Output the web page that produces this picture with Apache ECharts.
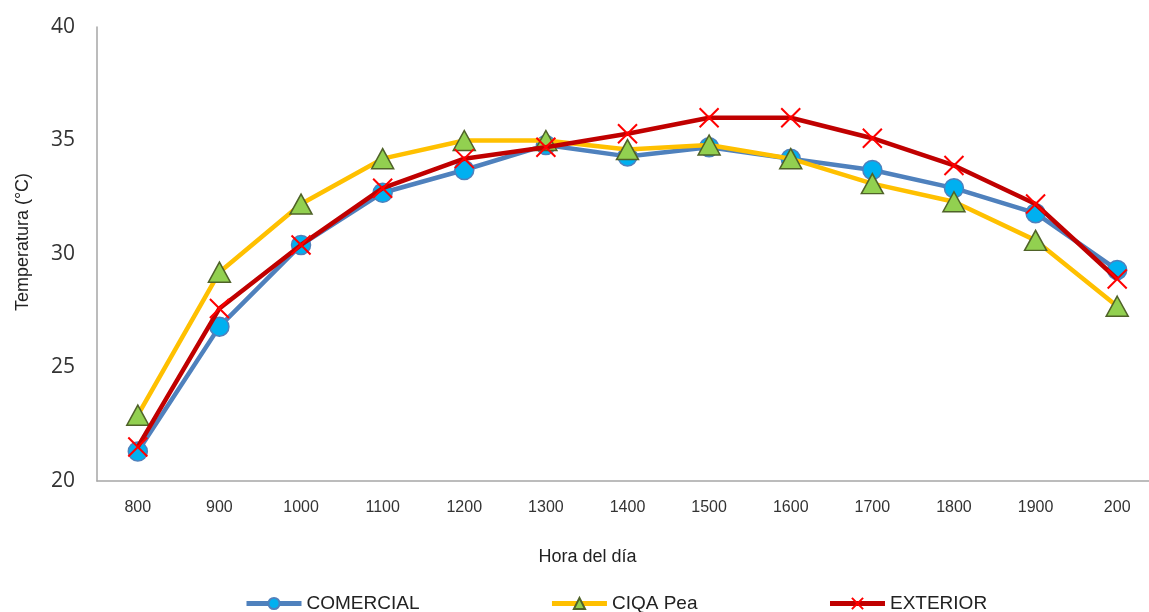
<!DOCTYPE html>
<html>
<head>
<meta charset="utf-8">
<script src="https://cdn.jsdelivr.net/npm/echarts@6/dist/echarts.min.js"></script>
<style>html,body{margin:0;padding:0;background:#fff;}#c{width:1149px;height:612px;}</style>
</head>
<body>
<div id="c"></div>
<script>
const categories = ['800','900','1000','1100','1200','1300','1400','1500','1600','1700','1800','1900','200'];
const comercial = [21.3, 26.8, 30.4, 32.7, 33.7, 34.8, 34.3, 34.7, 34.2, 33.7, 32.9, 31.8, 29.3];
const ciqaPea   = [22.9, 29.2, 32.2, 34.2, 35.0, 35.0, 34.6, 34.8, 34.2, 33.1, 32.3, 30.6, 27.7];
const exterior  = [21.5, 27.6, 30.4, 32.9, 34.2, 34.7, 35.3, 36.0, 36.0, 35.1, 33.9, 32.2, 28.9];
const seriesNames = ['COMERCIAL', 'CIQA Pea', 'EXTERIOR'];
const yTicks = { min: 20, max: 40, interval: 5 };

const chart = echarts.init(document.getElementById('c'), null, {renderer: 'canvas'});
const font = '"Liberation Sans", Arial, sans-serif';
const legendKeys = ['a', 'b', 'c'];
chart.setOption({
  animation: false,
  backgroundColor: '#fff',
  grid: { left: 97, right: -9, top: 27, bottom: 131, containLabel: false, outerBoundsMode: 'none' },
  legend: {
    left: 239, top: 589,
    itemWidth: 55, itemHeight: 14, itemGap: 130,
    lineStyle: { width: 5 },
    formatter: function (name) { return '{' + legendKeys[seriesNames.indexOf(name)] + '|' + name + '}'; },
    textStyle: {
      fontFamily: font, fontSize: 19, color: '#222',
      rich: {
        a: { fontFamily: font, fontSize: 19, color: '#222', width: 115 },
        b: { fontFamily: font, fontSize: 19, color: '#222', width: 93 },
        c: { fontFamily: font, fontSize: 19, color: '#222' }
      }
    },
    data: seriesNames
  },
  xAxis: {
    type: 'category', data: categories, boundaryGap: true,
    axisLine: { lineStyle: { color: '#A6A6A6', width: 1.5 } },
    axisTick: { show: false },
    axisLabel: { fontFamily: font, fontSize: 16, color: '#333', margin: 19 },
    name: 'Hora del día', nameLocation: 'middle', nameGap: 67,
    nameTextStyle: { fontFamily: font, fontSize: 18, color: '#222', padding: [0, 80, 0, 0] }
  },
  yAxis: {
    type: 'value', min: yTicks.min, max: yTicks.max, interval: yTicks.interval,
    axisLine: { show: true, lineStyle: { color: '#A6A6A6', width: 1.5 } },
    axisTick: { show: false },
    splitLine: { show: false },
    axisLabel: { fontFamily: '"Open Sans", sans-serif', fontSize: 21, color: '#333', margin: 22 },
    name: 'Temperatura (°C)', nameLocation: 'middle', nameGap: 65, nameRotate: 90,
    nameTextStyle: { fontFamily: font, fontSize: 18, color: '#222', padding: [0, 0, 0, 24] }
  },
  series: [
    {
      name: seriesNames[0], type: 'line', data: comercial,
      symbol: 'circle', symbolSize: 19, z: 2,
      lineStyle: { color: '#4F81BD', width: 4.5 },
      itemStyle: { color: '#00B0F0', borderColor: '#4F81BD', borderWidth: 1.5 }
    },
    {
      name: seriesNames[1], type: 'line', data: ciqaPea,
      symbol: 'triangle', symbolSize: [22, 20], z: 3,
      lineStyle: { color: '#FFC000', width: 4.5 },
      itemStyle: { color: '#92D050', borderColor: '#4F6228', borderWidth: 1.5 }
    },
    {
      name: seriesNames[2], type: 'line', data: exterior,
      symbol: 'path://M0,0 L10,10 M10,0 L0,10', symbolSize: 19, z: 4,
      lineStyle: { color: '#C00000', width: 4.5 },
      itemStyle: { color: '#FF0000', borderColor: '#FF0000', borderWidth: 2 }
    }
  ]
});
</script>
</body>
</html>
